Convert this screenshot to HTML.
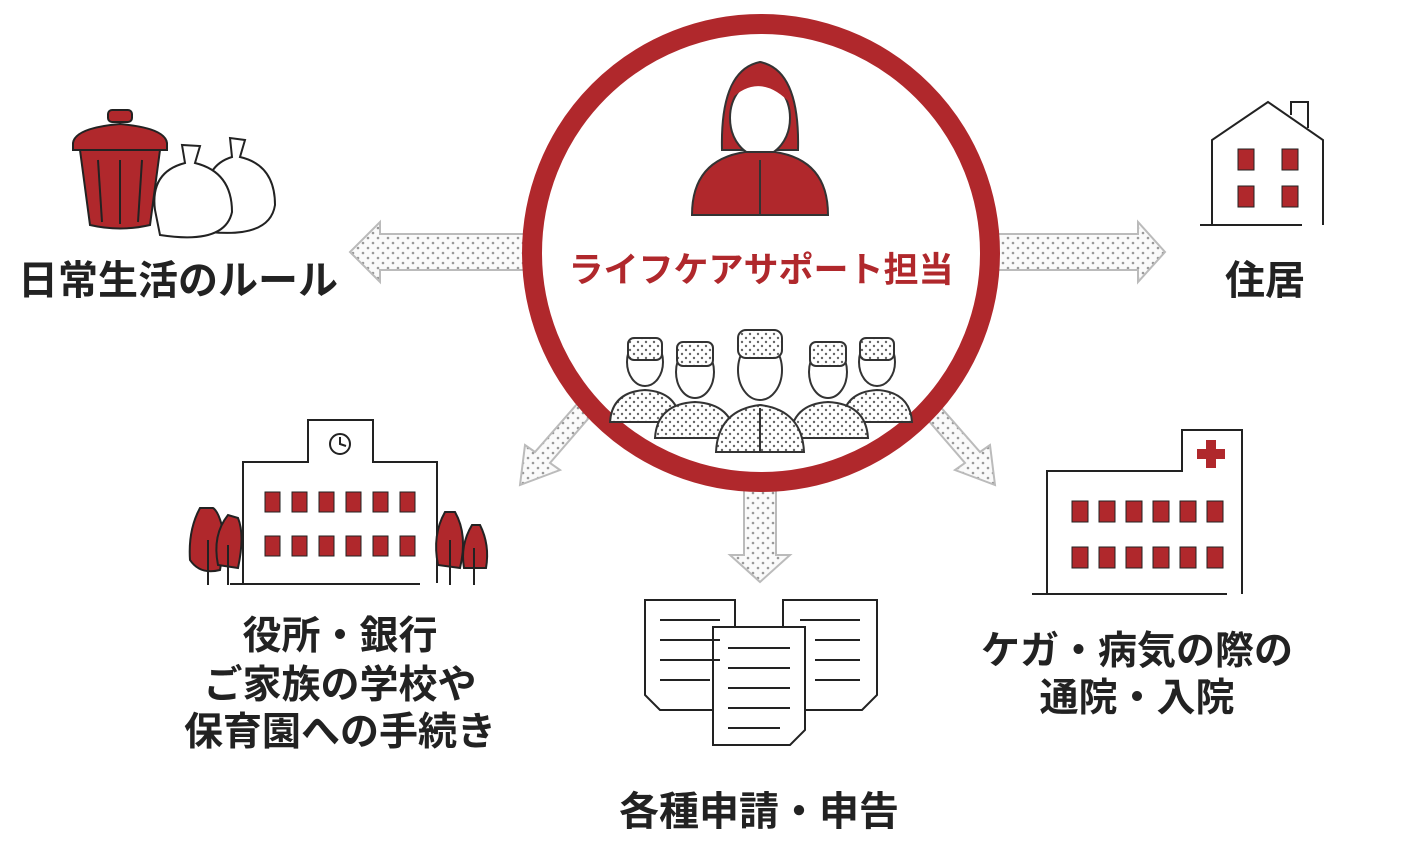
<!DOCTYPE html>
<html><head><meta charset="utf-8"><style>
html,body{margin:0;padding:0;background:#fff;}
svg{display:block}
text{font-family:"Liberation Sans","Noto Sans CJK JP",sans-serif;font-weight:bold;}
</style></head><body>
<svg width="1406" height="845" viewBox="0 0 1406 845" xmlns="http://www.w3.org/2000/svg">
<defs>
<pattern id="dots" width="10" height="10" patternUnits="userSpaceOnUse">
<rect width="10" height="10" fill="#fafafa"/><circle cx="3" cy="3" r="1.3" fill="#999"/><circle cx="8" cy="8" r="1.3" fill="#999"/></pattern>
<pattern id="dots2" width="8" height="8" patternUnits="userSpaceOnUse">
<rect width="8" height="8" fill="#fff"/><circle cx="2" cy="2" r="1.2" fill="#666"/><circle cx="6" cy="6" r="1.2" fill="#666"/></pattern>
</defs>
<g fill="url(#dots)" stroke="#bbb" stroke-width="2">
<polygon points="530,234 380,234 380,222 350,252 380,282 380,270 530,270"/>
<polygon points="990,234 1138,234 1138,222 1165,252 1138,282 1138,270 990,270"/>
<polygon points="744,480 744,555 730,555 760,582 790,555 776,555 776,480"/>
<polygon points="600,405 550,463 560,470 520,485 525,445 535,452 585,395"/>
<polygon points="915,405 965,463 955,470 995,485 990,445 980,452 930,395"/>
</g>
<circle cx="761" cy="253" r="229" fill="#fff" stroke="#b0282c" stroke-width="20"/>
<!-- woman -->
<path d="M722,150 Q720,70 760,62 Q800,70 798,150 Z" fill="#b0282c" stroke="#333" stroke-width="2"/>
<ellipse cx="760" cy="118" rx="30" ry="38" fill="#fff" stroke="#333" stroke-width="2"/>
<path d="M730,100 Q760,70 792,105 Q790,75 760,72 Q728,75 730,100Z" fill="#b0282c"/>
<path d="M692,215 Q692,160 745,152 L775,152 Q828,160 828,215 Z" fill="#b0282c" stroke="#333" stroke-width="2"/>
<line x1="760" y1="160" x2="760" y2="215" stroke="#333" stroke-width="2"/>
<text x="761" y="282" text-anchor="middle" font-size="35" fill="#b0282c">ライフケアサポート担当</text>
<!-- workers -->
<g stroke="#333" stroke-width="2" fill="url(#dots2)">
<g><path d="M610,422 Q612,392 645,390 Q678,392 680,422Z"/><ellipse cx="645" cy="362" rx="18" ry="24" fill="#fff"/><rect x="628" y="338" width="34" height="22" rx="6"/></g>
<g><path d="M842,422 Q844,392 877,390 Q910,392 912,422Z"/><ellipse cx="877" cy="362" rx="18" ry="24" fill="#fff"/><rect x="860" y="338" width="34" height="22" rx="6"/></g>
<g><path d="M655,438 Q657,404 695,402 Q733,404 735,438Z"/><ellipse cx="695" cy="372" rx="19" ry="26" fill="#fff"/><rect x="677" y="342" width="36" height="24" rx="6"/></g>
<g><path d="M790,438 Q792,404 828,402 Q866,404 868,438Z"/><ellipse cx="828" cy="372" rx="19" ry="26" fill="#fff"/><rect x="810" y="342" width="36" height="24" rx="6"/></g>
<g><path d="M716,452 Q718,410 760,405 Q802,410 804,452Z"/><ellipse cx="760" cy="370" rx="22" ry="30" fill="#fff"/><rect x="738" y="330" width="44" height="28" rx="8"/><line x1="760" y1="408" x2="760" y2="452"/></g>
</g>
<!-- trash -->
<g stroke="#222" stroke-width="2">
<path d="M80,150 L90,225 Q120,232 150,225 L160,150Z" fill="#b0282c"/>
<path d="M73,143 Q75,128 120,124 Q165,128 167,143 L167,150 L73,150Z" fill="#b0282c"/>
<rect x="108" y="110" width="24" height="12" rx="4" fill="#b0282c"/>
<line x1="98" y1="160" x2="102" y2="222"/><line x1="120" y1="160" x2="120" y2="224"/><line x1="142" y1="160" x2="138" y2="222"/>
<path d="M210,232 Q270,238 275,205 Q275,165 240,157 L245,140 L230,138 L232,157 Q205,165 205,200Z" fill="#fff"/>
<path d="M160,235 Q225,245 232,212 Q232,172 195,163 L200,146 L182,145 L185,163 Q150,172 155,210Z" fill="#fff"/>
</g>
<text x="178" y="294" text-anchor="middle" font-size="40" fill="#222">日常生活のルール</text>
<!-- house -->
<g stroke="#222" stroke-width="2" fill="none">
<path d="M1212,225 L1212,140 L1268,102 L1323,140 L1323,225"/>
<line x1="1200" y1="225" x2="1302" y2="225"/>
<path d="M1291,115 L1291,102 L1308,102 L1308,128"/>
</g>
<g fill="#b0282c" stroke="#222" stroke-width="1"><rect x="1238" y="149" width="16" height="21"/><rect x="1282" y="149" width="16" height="21"/><rect x="1238" y="186" width="16" height="21"/><rect x="1282" y="186" width="16" height="21"/></g>
<text x="1265" y="294" text-anchor="middle" font-size="40" fill="#222">住居</text>
<!-- school -->
<g stroke="#222" stroke-width="2" fill="none">
<path d="M243,583 L243,462 L308,462 L308,420 L373,420 L373,462 L437,462 L437,583"/>
<line x1="230" y1="584" x2="420" y2="584"/>
<circle cx="340" cy="444" r="10"/><path d="M340,437 L340,444 L346,446"/>
</g>
<g fill="#b0282c" stroke="#222" stroke-width="1">
<rect x="265" y="492" width="15" height="20"/><rect x="292" y="492" width="15" height="20"/><rect x="319" y="492" width="15" height="20"/><rect x="346" y="492" width="15" height="20"/><rect x="373" y="492" width="15" height="20"/><rect x="400" y="492" width="15" height="20"/>
<rect x="265" y="536" width="15" height="20"/><rect x="292" y="536" width="15" height="20"/><rect x="319" y="536" width="15" height="20"/><rect x="346" y="536" width="15" height="20"/><rect x="373" y="536" width="15" height="20"/><rect x="400" y="536" width="15" height="20"/>
<path d="M200,508 Q188,530 190,560 Q200,575 220,570 L225,540 Q220,512 213,508Z" stroke-width="2"/>
<path d="M228,515 Q212,535 218,565 L238,568 Q245,535 238,518Z" stroke-width="2"/>
<path d="M445,512 Q432,535 438,565 L460,568 Q468,535 455,512Z" stroke-width="2"/>
<path d="M472,525 Q460,545 464,568 L486,568 Q490,545 480,525Z" stroke-width="2"/>
</g>
<g stroke="#222" stroke-width="2"><line x1="208" y1="540" x2="208" y2="585"/><line x1="228" y1="545" x2="228" y2="585"/><line x1="450" y1="540" x2="450" y2="585"/><line x1="474" y1="548" x2="474" y2="585"/></g>
<g font-size="39" fill="#222" text-anchor="middle">
<text x="340" y="649">役所・銀行</text><text x="340" y="698">ご家族の学校や</text><text x="340" y="745">保育園への手続き</text></g>
<!-- documents -->
<g stroke="#222" stroke-width="2" fill="#fff">
<path d="M645,600 L735,600 L735,710 L660,710 L645,695Z"/>
<path d="M783,600 L877,600 L877,695 L862,710 L783,710Z"/>
<path d="M713,627 L805,627 L805,730 L790,745 L713,745Z"/>
</g>
<g stroke="#222" stroke-width="2">
<line x1="660" y1="620" x2="720" y2="620"/><line x1="660" y1="640" x2="720" y2="640"/><line x1="660" y1="660" x2="720" y2="660"/><line x1="660" y1="680" x2="710" y2="680"/>
<line x1="800" y1="620" x2="860" y2="620"/><line x1="815" y1="640" x2="860" y2="640"/><line x1="815" y1="660" x2="860" y2="660"/><line x1="815" y1="680" x2="860" y2="680"/>
<line x1="728" y1="648" x2="790" y2="648"/><line x1="728" y1="668" x2="790" y2="668"/><line x1="728" y1="688" x2="790" y2="688"/><line x1="728" y1="708" x2="790" y2="708"/><line x1="728" y1="728" x2="780" y2="728"/>
</g>
<text x="759" y="825" text-anchor="middle" font-size="40" fill="#222">各種申請・申告</text>
<!-- hospital -->
<g stroke="#222" stroke-width="2" fill="none">
<path d="M1047,594 L1047,471 L1182,471 L1182,430 L1242,430 L1242,594"/>
<line x1="1032" y1="594" x2="1227" y2="594"/>
</g>
<path d="M1206,440 h10 v9 h9 v10 h-9 v9 h-10 v-9 h-9 v-10 h9z" fill="#b0282c"/>
<g fill="#b0282c" stroke="#222" stroke-width="1">
<rect x="1072" y="501" width="16" height="21"/><rect x="1099" y="501" width="16" height="21"/><rect x="1126" y="501" width="16" height="21"/><rect x="1153" y="501" width="16" height="21"/><rect x="1180" y="501" width="16" height="21"/><rect x="1207" y="501" width="16" height="21"/>
<rect x="1072" y="547" width="16" height="21"/><rect x="1099" y="547" width="16" height="21"/><rect x="1126" y="547" width="16" height="21"/><rect x="1153" y="547" width="16" height="21"/><rect x="1180" y="547" width="16" height="21"/><rect x="1207" y="547" width="16" height="21"/>
</g>
<g font-size="39" fill="#222" text-anchor="middle">
<text x="1137" y="664">ケガ・病気の際の</text><text x="1137" y="711">通院・入院</text></g>
</svg>
</body></html>
